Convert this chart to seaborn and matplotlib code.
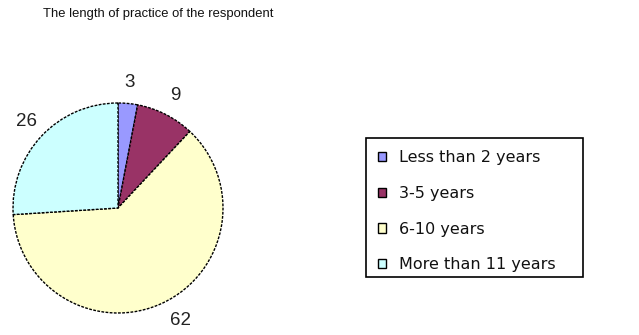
import matplotlib
matplotlib.use("Agg")
import numpy as np
import matplotlib.pyplot as plt
import seaborn as sns
from matplotlib.patches import Patch, Rectangle

categories = ["Less than 2 years", "3-5 years", "6-10 years", "More than 11 years"]
values = [3, 9, 62, 26]
colors = ["#9999FF", "#993366", "#FFFFCC", "#CCFFFF"]
title = "The length of practice of the respondent"

sns.set_style("white")
plt.rcParams["font.family"] = ["Liberation Sans", "DejaVu Sans"]

W, H = 639, 335
fig = plt.figure(figsize=(W / 100, H / 100), dpi=100)
fig.patch.set_facecolor("white")

cx, cy, r = 118, 208, 105
ax = fig.add_axes([(cx - r) / W, (H - cy - r) / H, 2 * r / W, 2 * r / H])
wedges, texts = ax.pie(values, colors=colors, startangle=90, counterclock=False,
                       labels=[str(v) for v in values], labeldistance=1.2,
                       wedgeprops=dict(edgecolor="black", linewidth=1.0, linestyle=(0, (2, 1))),
                       textprops=dict(fontsize=13.5, color="#222222"))
ax.set_xlim(-1, 1)
ax.set_ylim(-1, 1)
ax.set_aspect("equal")
ax.axis("off")
for t in texts:
    t.set_clip_on(False)
    t.set_ha("center")
    t.set_va("center")
# the large slice's label sits a little further round, as in the reference
a = np.deg2rad(-61)
texts[2].set_position((1.23 * np.cos(a), 1.23 * np.sin(a)))

fig.text(43 / W, 1 - 14 / H, title, fontsize=9.4, va="center", ha="left", color="#111111")

# legend frame
fig.patches.append(Rectangle((366 / W, 1 - 277 / H), (583 - 366) / W, (277 - 138) / H,
                             transform=fig.transFigure, facecolor="white",
                             edgecolor="black", linewidth=1.2, zorder=0))

handles = [Patch(facecolor=c, edgecolor="black", linewidth=1.0) for c in colors]
leg = fig.legend(handles, categories, loc="upper left",
                 bbox_to_anchor=(367 / W, 1 - 139 / H),
                 frameon=False, prop={"family": "DejaVu Sans", "size": 11.5},
                 handlelength=0.52, handleheight=0.52,
                 handletextpad=0.78, labelspacing=1.3, borderpad=0.7,
                 borderaxespad=0)
for txt in leg.get_texts():
    txt.set_color("#111111")

fig.savefig("out.png", dpi=100, facecolor="white")
